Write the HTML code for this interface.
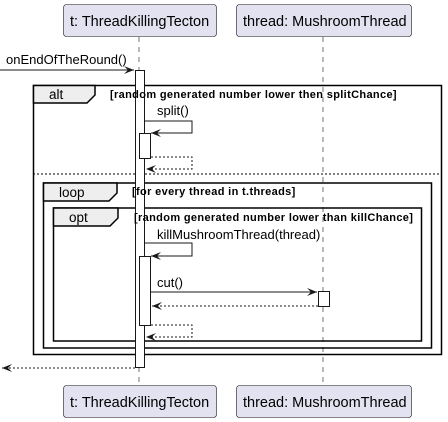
<!DOCTYPE html>
<html><head><meta charset="utf-8"><style>
html,body{margin:0;padding:0;background:#fff}
svg{display:block}
text{font-family:"Liberation Sans",sans-serif;fill:#000}
</style></head><body>
<svg width="448" height="422" viewBox="0 0 448 422" xmlns="http://www.w3.org/2000/svg">
<defs>
<marker id="ah" viewBox="0 0 10 10" refX="10" refY="5" markerWidth="10" markerHeight="10" markerUnits="userSpaceOnUse" orient="auto">
<path d="M0,1 L10,5 L0,9 L4,5 Z" fill="#181818"/>
</marker>
</defs>
<!-- lifelines -->
<line x1="139" y1="37" x2="139" y2="386" stroke="#181818" stroke-width="0.6" stroke-dasharray="5,5"/>
<line x1="323" y1="37" x2="323" y2="386" stroke="#181818" stroke-width="0.6" stroke-dasharray="5,5"/>
<!-- participants -->
<g font-size="14.5">
<rect x="63.5" y="4.5" width="153" height="32" rx="3" fill="#E2E2F0" stroke="#181818" stroke-width="0.6"/>
<text x="70" y="26">t: ThreadKillingTecton</text>
<rect x="236.5" y="4.5" width="175" height="32" rx="3" fill="#E2E2F0" stroke="#181818" stroke-width="0.6"/>
<text x="243" y="26">thread: MushroomThread</text>
<rect x="63.5" y="385.5" width="153" height="32" rx="3" fill="#E2E2F0" stroke="#181818" stroke-width="0.6"/>
<text x="70" y="407">t: ThreadKillingTecton</text>
<rect x="236.5" y="385.5" width="175" height="32" rx="3" fill="#E2E2F0" stroke="#181818" stroke-width="0.6"/>
<text x="243" y="407">thread: MushroomThread</text>
</g>
<!-- frames -->
<g stroke="#000" stroke-width="1.5" fill="none">
<rect x="33.5" y="85.5" width="408" height="269"/>
<rect x="43.5" y="183" width="388" height="165"/>
<rect x="53.5" y="208" width="368" height="133"/>
</g>
<line x1="33" y1="174" x2="441" y2="174" stroke="#000" stroke-width="1" stroke-dasharray="2,2"/>
<g stroke="#000" stroke-width="1.5" fill="#EEEEEE">
<path d="M33.5,85.5 H95 V95 L87,103 H33.5 Z"/>
<path d="M43.5,183 H117 V193 L109,201 H43.5 Z"/>
<path d="M53.5,208 H118 V218 L110,226 H53.5 Z"/>
</g>
<g font-size="13.5">
<text x="49" y="99">alt</text>
<text x="59" y="197">loop</text>
<text x="69" y="222">opt</text>
</g>
<!-- main activation -->
<rect x="135.5" y="70.5" width="9" height="297" fill="#fff" stroke="#181818" stroke-width="1"/>
<g font-size="11" font-weight="bold" letter-spacing="0.35">
<text x="110" y="98">[random generated number lower then splitChance]</text>
<text x="132" y="195">[for every thread in t.threads]</text>
<text x="134" y="221">[random generated number lower than killChance]</text>
</g>
<!-- onEndOfTheRound -->
<line x1="0" y1="70" x2="134" y2="70" stroke="#181818" stroke-width="1" marker-end="url(#ah)"/>
<text x="6" y="64" font-size="13">onEndOfTheRound()</text>
<!-- split -->
<text x="157" y="115" font-size="13">split()</text>
<polyline points="145,121 192,121 192,133 151,133" fill="none" stroke="#181818" stroke-width="1" marker-end="url(#ah)"/>
<rect x="139.5" y="133.5" width="11" height="25" fill="#fff" stroke="#181818" stroke-width="1"/>
<polyline points="151,157 192,157 192,169 146,169" fill="none" stroke="#181818" stroke-width="1" stroke-dasharray="2,2" marker-end="url(#ah)"/>
<!-- killMushroomThread -->
<text x="157" y="239" font-size="13">killMushroomThread(thread)</text>
<polyline points="145,243 192,243 192,256 151,256" fill="none" stroke="#181818" stroke-width="1" marker-end="url(#ah)"/>
<rect x="139.5" y="256.5" width="11" height="69" fill="#fff" stroke="#181818" stroke-width="1"/>
<text x="157" y="287" font-size="13">cut()</text>
<line x1="151" y1="292" x2="317" y2="292" stroke="#181818" stroke-width="1" marker-end="url(#ah)"/>
<rect x="318.5" y="291.5" width="11" height="15" fill="#fff" stroke="#181818" stroke-width="1"/>
<line x1="318" y1="306" x2="152" y2="306" stroke="#181818" stroke-width="1" stroke-dasharray="2,2" marker-end="url(#ah)"/>
<polyline points="151,325 192,325 192,337 146,337" fill="none" stroke="#181818" stroke-width="1" stroke-dasharray="2,2" marker-end="url(#ah)"/>
<!-- final return -->
<line x1="135" y1="368" x2="2" y2="368" stroke="#181818" stroke-width="1" stroke-dasharray="2,2" marker-end="url(#ah)"/>
</svg>
</body></html>
